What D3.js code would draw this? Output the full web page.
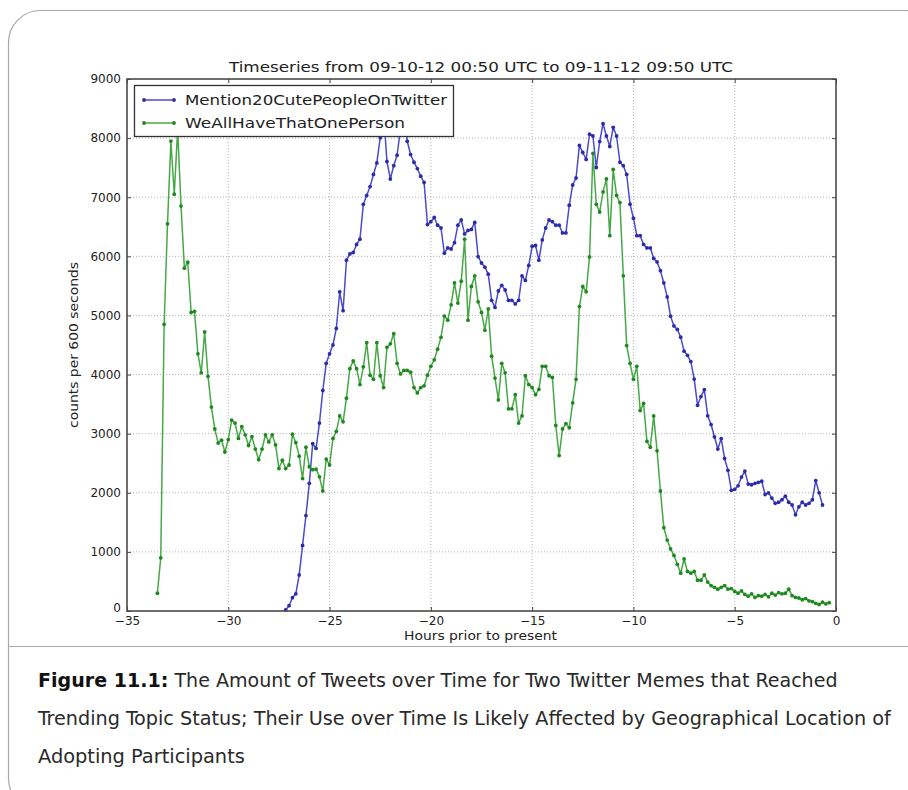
<!DOCTYPE html>
<html><head><meta charset="utf-8">
<script src="https://cdn.jsdelivr.net/npm/d3@7"></script>
<style>body{margin:0;background:#fff;}svg{display:block;}</style>
</head><body>
<svg id="chart" width="908" height="790"></svg>
<script>
// ---------- data ----------
const titleText = "Timeseries from 09-10-12 00:50 UTC to 09-11-12 09:50 UTC";
const xLabel = "Hours prior to present";
const yLabel = "counts per 600 seconds";
const seriesNames = ["Mention20CutePeopleOnTwitter", "WeAllHaveThatOnePerson"];
const xTicks = [-35, -30, -25, -20, -15, -10, -5, 0];
const yTicks = [0, 1000, 2000, 3000, 4000, 5000, 6000, 7000, 8000, 9000];
const binHours = 1 / 6;          // one sample per 600 seconds
const greenStartHour = -33.5;    // first WeAllHaveThatOnePerson sample
const blueStartHour = -27.1667;  // first Mention20CutePeopleOnTwitter sample

const greenValues = [
  300, 900, 4850, 6550, 7950, 7050, 8150, 6850, 5800, 5900,
  5050, 5070, 4350, 4030, 4720, 3970, 3450, 3080, 2840, 2890,
  2690, 2900, 3230, 3180, 2920, 3120, 2980, 2800, 2950, 2740,
  2560, 2740, 2980, 2860, 2980, 2810, 2410, 2550, 2410, 2470,
  2990, 2850, 2620, 2240, 2770, 2440, 2390, 2400, 2270, 2030,
  2570, 2470, 2920, 3040, 3300, 3200, 3600, 4100, 4230, 4100,
  3830, 4130, 4540, 3990, 3920, 4540, 3980, 3780, 4460, 4520,
  4690, 4190, 4010, 4070, 4070, 4040, 3780, 3690, 3780, 3810,
  3990, 4140, 4250, 4430, 4630, 4990, 4920, 5180, 5550, 5210,
  5580, 6290, 4920, 5490, 5670, 5230, 5050, 4750, 5110, 4310,
  3940, 3570, 4190, 4030, 3420, 3420, 3660, 3180, 3300, 3980,
  3830, 3780, 3660, 3750, 4140, 4140, 3980, 3950, 3140, 2630,
  3080, 3170, 3100, 3520, 3920, 5150, 5490, 5400, 5990, 7740,
  6880, 6750, 7090, 7310, 6350, 7470, 7030, 6910, 5670, 4490,
  4190, 3920, 4140, 3390, 3510, 2870, 2770, 3300, 2710, 2030,
  1410, 1200, 1050, 940, 790, 640, 880, 670, 640, 670,
  520, 520, 610, 490, 430, 400, 370, 400, 430, 370,
  380, 330, 300, 340, 280, 250, 290, 230, 260, 250,
  280, 240, 300, 270, 310, 290, 300, 370, 260, 230,
  220, 190, 210, 170, 160, 130, 110, 150, 120, 140
];

const blueValues = [
  20, 90, 225, 290, 610, 1110, 1615, 2160, 2830, 2750,
  3180, 3730, 4190, 4350, 4500, 4780, 5400, 5080, 5935, 6040,
  6065, 6200, 6290, 6880, 7030, 7180, 7385, 7580, 8006, 8420,
  7604, 7308, 7533, 7710, 8154, 8716, 7947, 7722, 7592, 7485,
  7355, 7249, 6538, 6586, 6657, 6527, 6479, 6053, 6142, 6124,
  6231, 6527, 6615, 6379, 6438, 6456, 6574, 5994, 5887, 5817,
  5698, 5255, 5136, 5414, 5509, 5432, 5255, 5255, 5195, 5255,
  5669, 5592, 5846, 6171, 6183, 5935, 6278, 6479, 6615, 6586,
  6527, 6527, 6396, 6396, 6864, 7207, 7325, 7876, 7757, 7639,
  8065, 8036, 7503, 7941, 8243, 8036, 7858, 8183, 8036, 7592,
  7533, 7385, 6882, 6645, 6349, 6349, 6201, 6142, 6142, 5965,
  5905, 5757, 5550, 5314, 4988, 4822, 4763, 4633, 4396, 4325,
  4219, 3923, 3479, 3627, 3746, 3302, 3154, 2947, 2740, 2917,
  2580, 2380, 2041, 2059, 2118, 2266, 2367, 2148, 2136, 2160,
  2177, 2195, 1970, 2000, 1911, 1822, 1840, 1882, 1941, 1840,
  1793, 1627, 1763, 1840, 1793, 1822, 1882, 2207, 2000, 1793
];

const captionBold = "Figure 11.1:";
const captionLines = [
  " The Amount of Tweets over Time for Two Twitter Memes that Reached",
  "Trending Topic Status; Their Use over Time Is Likely Affected by Geographical Location of",
  "Adopting Participants"
];

// ---------- drawing ----------
const svg = d3.select("#chart");
const M = {left: 127, right: 836, top: 79, bottom: 611};
const x = d3.scaleLinear().domain([-35, 0]).range([M.left, M.right]);
const y = d3.scaleLinear().domain([0, 9000]).range([M.bottom, M.top]);
const tickFont = "'DejaVu Sans', sans-serif";

// card
svg.append("rect").attr("x", 8.5).attr("y", 10.5).attr("width", 930).attr("height", 800)
  .attr("rx", 32).attr("fill", "#fff").attr("stroke", "#a8a8a8").attr("stroke-width", 1.2);
svg.append("line").attr("x1", 8).attr("x2", 908).attr("y1", 646.5).attr("y2", 646.5)
  .attr("stroke", "#a8a8a8").attr("stroke-width", 1.2);

// grid
const grid = svg.append("g").attr("stroke", "#a0a0a0").attr("stroke-width", 0.8)
  .attr("stroke-dasharray", "1,2");
grid.selectAll(".gx").data(xTicks.slice(1, -1)).join("line")
  .attr("x1", d => x(d)).attr("x2", d => x(d)).attr("y1", M.top).attr("y2", M.bottom);
grid.selectAll(".gy").data(yTicks.slice(1, -1)).join("line")
  .attr("y1", d => y(d)).attr("y2", d => y(d)).attr("x1", M.left).attr("x2", M.right);

// series
function drawSeries(vals, start, lineColor, dotColor) {
  const pts = vals.map((v, i) => ({h: start + i * binHours, v}));
  const line = d3.line().x(d => x(d.h)).y(d => y(d.v));
  svg.append("path").datum(pts).attr("d", line).attr("fill", "none")
    .attr("stroke", lineColor).attr("stroke-width", 1.5).attr("stroke-linejoin", "round");
  svg.append("g").selectAll("circle").data(pts).join("circle")
    .attr("cx", d => x(d.h)).attr("cy", d => y(d.v)).attr("r", 1.9).attr("fill", dotColor);
}
const blueLine = "#4b4bcc", blueDot = "#2c2ca8";
const greenLine = "#47a847", greenDot = "#1f881f";
drawSeries(blueValues, blueStartHour, blueLine, blueDot);
drawSeries(greenValues, greenStartHour, greenLine, greenDot);

// axes (inward ticks on all sides)
function styleAxis(g) {
  g.select(".domain").remove();
  g.selectAll(".tick line").attr("stroke", "#444");
  g.selectAll("text").attr("fill", "#222").style("font-family", tickFont).style("font-size", "12px");
}
svg.append("g").attr("transform", `translate(0,${M.bottom})`)
  .call(d3.axisBottom(x).tickValues(xTicks).tickSizeInner(-4).tickSizeOuter(0).tickPadding(5))
  .call(styleAxis);
svg.append("g").attr("transform", `translate(${M.left},0)`)
  .call(d3.axisLeft(y).tickValues(yTicks).tickSizeInner(-4).tickSizeOuter(0).tickPadding(6).tickFormat(d3.format("d")))
  .call(styleAxis)
  .call(g => g.selectAll(".tick text").filter(d => d === 0).attr("dy", "0.05em"));
svg.append("g").attr("transform", `translate(0,${M.top})`)
  .call(d3.axisTop(x).tickValues(xTicks).tickSizeInner(-4).tickSizeOuter(0).tickFormat(""))
  .call(styleAxis);
svg.append("g").attr("transform", `translate(${M.right},0)`)
  .call(d3.axisRight(y).tickValues(yTicks).tickSizeInner(-4).tickSizeOuter(0).tickFormat(""))
  .call(styleAxis);

// frame
svg.append("rect").attr("x", M.left).attr("y", M.top).attr("width", M.right - M.left)
  .attr("height", M.bottom - M.top).attr("fill", "none").attr("stroke", "#4a4a4a").attr("stroke-width", 1.6);

// title and labels
svg.append("text").attr("x", 229).attr("y", 72).text(titleText)
  .attr("textLength", 504).attr("lengthAdjust", "spacingAndGlyphs")
  .style("font-family", tickFont).style("font-size", "14.5px").attr("fill", "#222");
svg.append("text").attr("x", 404).attr("y", 640).text(xLabel)
  .attr("textLength", 153).attr("lengthAdjust", "spacingAndGlyphs")
  .style("font-family", tickFont).style("font-size", "12px").attr("fill", "#222");
svg.append("text").attr("transform", "translate(78,428) rotate(-90)").text(yLabel)
  .attr("textLength", 166).attr("lengthAdjust", "spacingAndGlyphs")
  .style("font-family", tickFont).style("font-size", "11.5px").attr("fill", "#222");

// legend
const lg = svg.append("g");
lg.append("rect").attr("x", 134.5).attr("y", 85.5).attr("width", 319).attr("height", 51)
  .attr("fill", "#fff").attr("stroke", "#333").attr("stroke-width", 1.3);
const legendItems = [
  {name: seriesNames[0], line: blueLine, dot: blueDot, w: 262},
  {name: seriesNames[1], line: greenLine, dot: greenDot, w: 220}
];
legendItems.forEach((it, i) => {
  const cy = 100 + i * 23;
  lg.append("line").attr("x1", 144).attr("x2", 174).attr("y1", cy).attr("y2", cy)
    .attr("stroke", it.line).attr("stroke-width", 1.5);
  [144, 174].forEach(cx => lg.append("circle").attr("cx", cx).attr("cy", cy).attr("r", 1.9).attr("fill", it.dot));
  lg.append("text").attr("x", 185).attr("y", cy + 5).text(it.name)
    .attr("textLength", it.w).attr("lengthAdjust", "spacingAndGlyphs")
    .style("font-family", tickFont).style("font-size", "14.5px").attr("fill", "#222");
});

// caption
const capFont = "'Liberation Sans Narrow', 'DejaVu Sans Condensed', 'Open Sans', sans-serif";
const capBase = [687, 725, 763];
const capWidths = [800, 855, 207];
captionLines.forEach((ln, i) => {
  const g = svg.append("g");
  const t = g.append("text").attr("x", 0).attr("y", 0)
    .style("font-family", capFont).style("font-size", "20px").attr("fill", "#2a2a2a");
  if (i === 0) t.append("tspan").attr("font-weight", "bold").attr("fill", "#111").text(captionBold);
  t.append("tspan").text(ln);
  const w = t.node().getBBox().width;
  g.attr("transform", `translate(38,${capBase[i]}) scale(${capWidths[i] / w},1)`);
});
</script>
</body></html>
